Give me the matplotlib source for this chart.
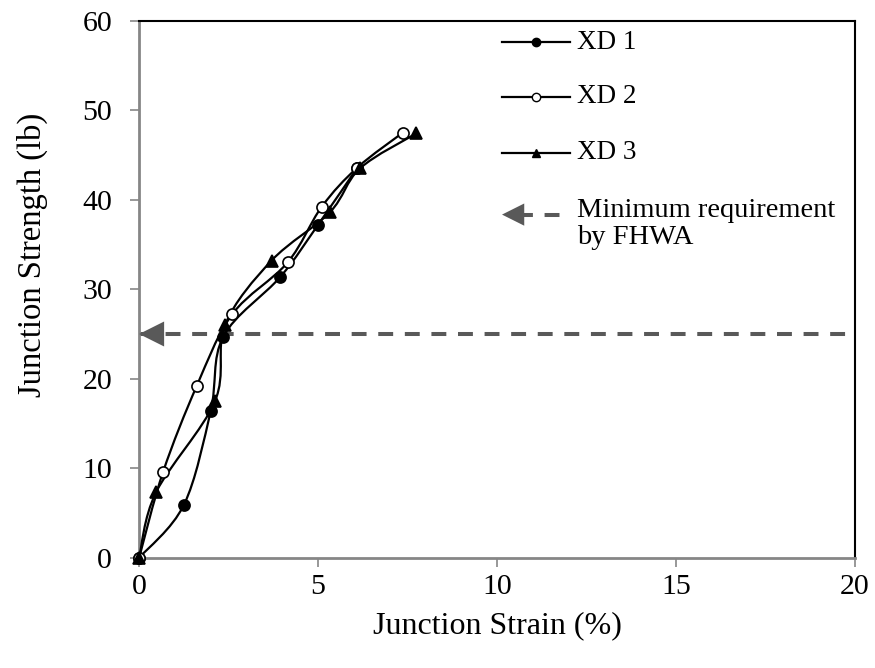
import matplotlib
matplotlib.use("Agg")
import matplotlib.pyplot as plt
from matplotlib.path import Path
from matplotlib.patches import PathPatch

plt.rcParams['font.family'] = ['Liberation Serif', 'DejaVu Serif']

# junction strain (%) / junction strength (lb)
xd1_strain = [0, 1.25, 2.0, 2.35, 3.95, 5.0, 6.1]
xd1_strength = [0, 5.9, 16.4, 24.7, 31.4, 37.2, 43.6]

xd2_strain = [0, 0.67, 1.61, 2.6, 4.15, 5.1, 6.1, 7.37]
xd2_strength = [0, 9.6, 19.2, 27.2, 33.0, 39.2, 43.6, 47.5]

xd3_strain = [0, 0.47, 2.12, 2.4, 3.7, 5.33, 6.17, 7.74]
xd3_strength = [0, 7.3, 17.5, 26.0, 33.2, 38.6, 43.5, 47.4]

fhwa_min = 25  # lb

series = [
    ("XD 1", xd1_strain, xd1_strength, dict(marker="o", mfc="black")),
    ("XD 2", xd2_strain, xd2_strength, dict(marker="o", mfc="white")),
    ("XD 3", xd3_strain, xd3_strength, dict(marker="^", mfc="black")),
]


def smooth_path(x, y):
    # excel-like smoothed line: bezier segments, catmull-rom control points
    pts = list(zip(x, y))
    n = len(pts)
    verts = [pts[0]]
    codes = [Path.MOVETO]
    for i in range(n - 1):
        p0 = pts[max(i - 1, 0)]
        p1 = pts[i]
        p2 = pts[i + 1]
        p3 = pts[min(i + 2, n - 1)]
        c1 = (p1[0] + (p2[0] - p0[0]) / 6, p1[1] + (p2[1] - p0[1]) / 6)
        c2 = (p2[0] - (p3[0] - p1[0]) / 6, p2[1] - (p3[1] - p1[1]) / 6)
        verts += [c1, c2, p2]
        codes += [Path.CURVE4] * 3
    return Path(verts, codes)


fig = plt.figure(figsize=(8.75, 6.68), dpi=100)
ax = fig.add_axes([0.159, 0.165, 0.818, 0.804])

grey = "#595959"

# minimum requirement line with arrow
ax.plot([0, 20], [fhwa_min, fhwa_min], color=grey, lw=2.9,
        dashes=(3.7, 2.9), solid_capstyle="butt", zorder=2, clip_on=False)
ax.annotate("", xy=(0, fhwa_min), xytext=(0.8, fhwa_min),
            arrowprops=dict(arrowstyle="-|>,head_length=0.9,head_width=0.45",
                            color=grey, lw=0, shrinkA=0, shrinkB=0,
                            mutation_scale=20), zorder=3)

for name, xs, ys, style in series:
    ax.add_patch(PathPatch(smooth_path(xs, ys), fill=False, edgecolor="black",
                           lw=1.6, zorder=4, clip_on=False))
    ax.plot(xs, ys, linestyle="none", marker=style["marker"], ms=8,
            mfc=style["mfc"], mec="black", mew=1.2, zorder=5, clip_on=False)

ax.set_xlim(0, 20)
ax.set_ylim(0, 60)
ax.set_xticks([0, 5, 10, 15, 20])
ax.set_yticks(range(0, 61, 10))
ax.tick_params(direction="out", length=6.5, width=1.2, color="#868686",
               labelsize=21.5, labelcolor="black")
ax.tick_params(axis="y", pad=13)
ax.tick_params(axis="x", pad=5)

for side in ["left", "bottom"]:
    ax.spines[side].set_color("#868686")
    ax.spines[side].set_linewidth(2)
for side in ["top", "right"]:
    ax.spines[side].set_color("black")
    ax.spines[side].set_linewidth(1.5)

ax.set_xlabel("Junction Strain (%)", fontsize=23, labelpad=8)
ax.set_ylabel("Junction Strength (lb)", fontsize=23.5)
ax.yaxis.set_label_coords(-0.128, 0.564)

# legend, laid out by hand in axes fraction
lx0, lx1, lxm, ltx = 0.507, 0.602, 0.554, 0.612
rows = [0.96, 0.858, 0.754]
for (name, xs, ys, style), ry in zip(series, rows):
    ax.plot([lx0, lx1], [ry, ry], color="black", lw=1.6, transform=ax.transAxes,
            clip_on=False)
    ax.plot([lxm], [ry], marker=style["marker"], ms=6, mfc=style["mfc"],
            mec="black", mew=1.0, transform=ax.transAxes, clip_on=False)
    ax.text(ltx, ry, name, fontsize=19.5, va="center", ha="left",
            transform=ax.transAxes)

ry = 0.639
ax.plot([0.53, lx1], [ry, ry], color=grey, lw=2.9, dashes=(3.7, 2.9),
        transform=ax.transAxes, clip_on=False)
ax.annotate("", xy=(lx0, ry), xytext=(0.535, ry), xycoords="axes fraction",
            textcoords="axes fraction",
            arrowprops=dict(arrowstyle="-|>,head_length=0.8,head_width=0.4",
                            color=grey, lw=0, shrinkA=0, shrinkB=0,
                            mutation_scale=20))
ax.text(ltx, ry + 0.03, "Minimum requirement\nby FHWA", fontsize=20.5,
        va="top", ha="left", linespacing=1.08, transform=ax.transAxes)

fig.savefig("out.png", dpi=100)
